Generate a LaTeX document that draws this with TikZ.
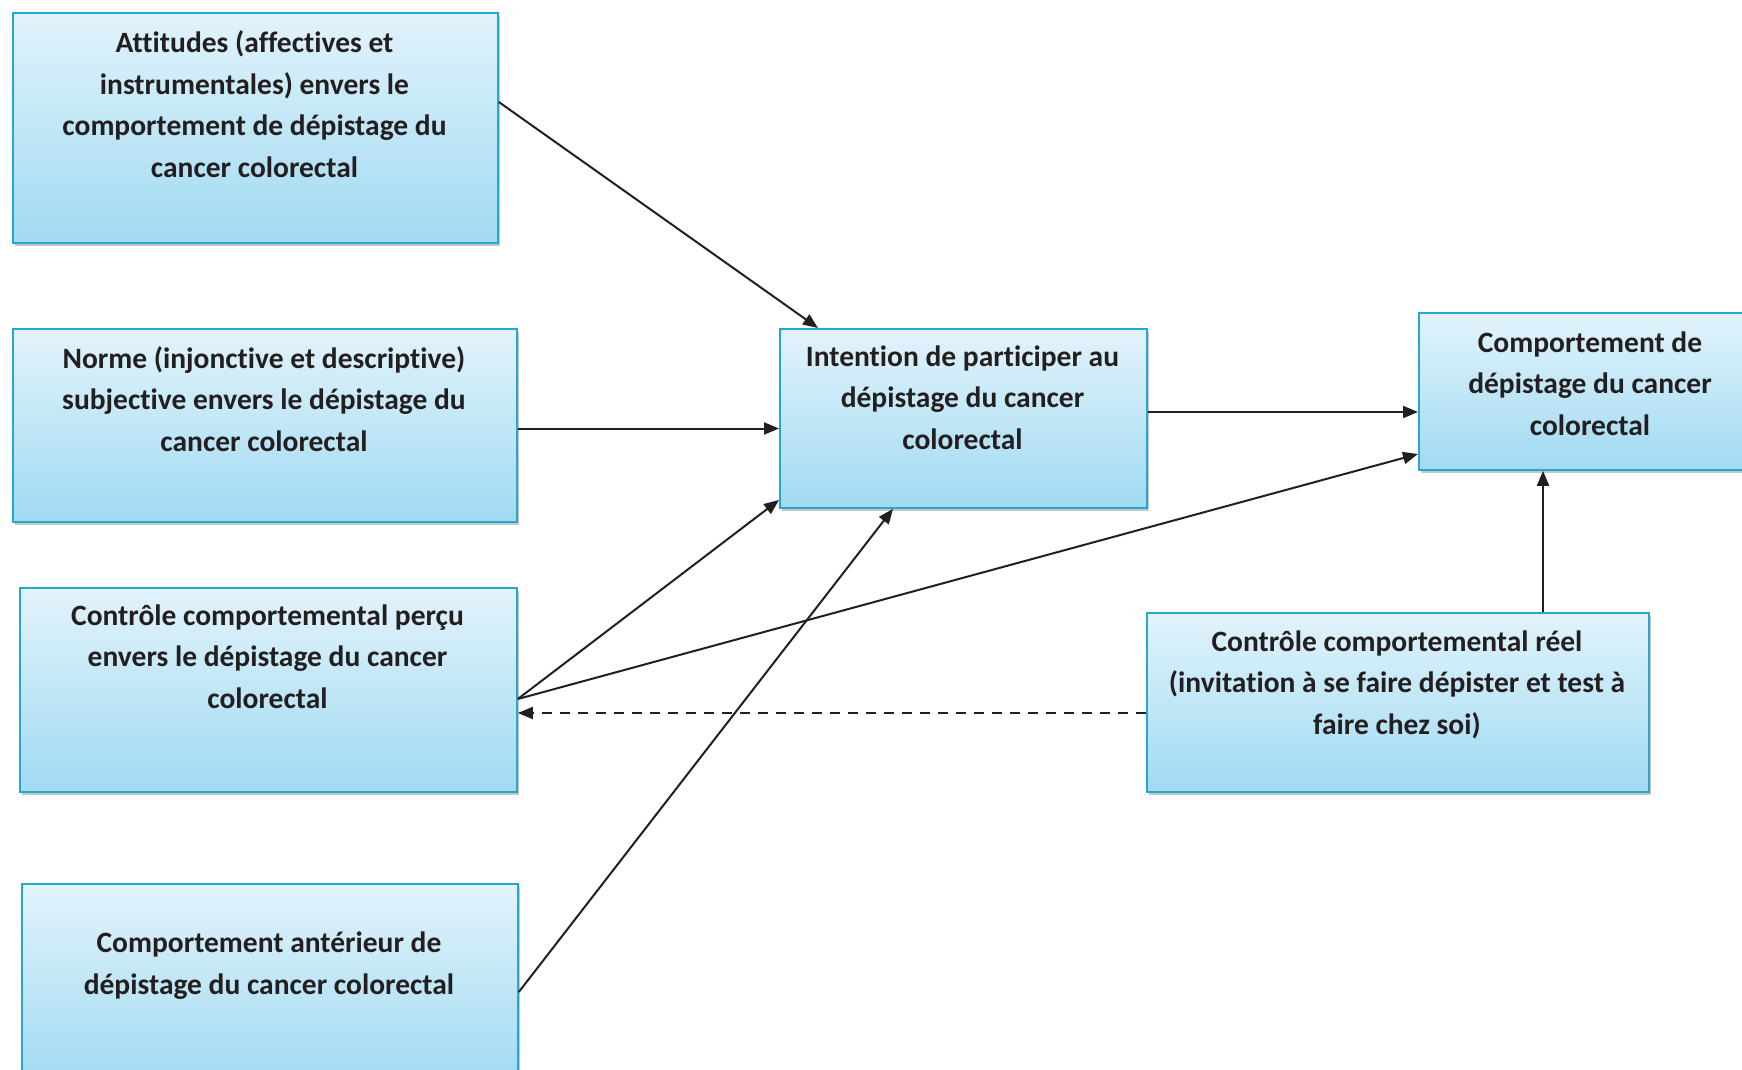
\documentclass[tikz,border=0pt]{standalone}
\usepackage{fontspec}
\setmainfont[Ligatures={NoCommon}]{Carlito}
\usetikzlibrary{arrows.meta,shadows}
\definecolor{boxtop}{RGB}{226,243,251}
\definecolor{boxbot}{RGB}{160,218,242}
\definecolor{boxline}{RGB}{38,168,204}
\definecolor{ink}{RGB}{35,31,32}
\tikzset{
  box/.style={draw=boxline, line width=1.8pt, top color=boxtop, bottom color=boxbot,
    anchor=north west, inner sep=0pt,
    drop shadow={shadow xshift=2pt, shadow yshift=-3pt, fill=black!22, opacity=1}},
  lbl/.style={anchor=base, inner sep=0pt, align=center, text=ink,
    font=\fontsize{29.5}{41.5}\selectfont\bfseries},
  conn/.style={draw=ink, line width=2pt, -{Triangle[length=15pt,width=12pt]}},
  dconn/.style={conn, dash pattern=on 10pt off 8pt}
}
\begin{document}
\begin{tikzpicture}[x=1pt,y=-1pt]
\useasboundingbox[fill=white] (0,0) rectangle (1742,1070);
% boxes
\node[box, minimum width=485, minimum height=230] (A) at (12,12) {};
\node[box, minimum width=504, minimum height=193] (N) at (12,328) {};
\node[box, minimum width=497, minimum height=204] (P) at (19,587) {};
\node[box, minimum width=496, minimum height=200] (Ant) at (21,883) {};
\node[box, minimum width=367, minimum height=179] (I) at (779,328) {};
\node[box, minimum width=344, minimum height=157] (C) at (1418,312) {};
\node[box, minimum width=502, minimum height=179] (R) at (1146,612) {};
% texts (anchor = baseline of last line)
\node[lbl] (tA) at (254.5,177) {Attitudes (affectives et\\instrumentales) envers le\\comportement de dépistage du\\cancer colorectal};
\node[lbl] (tN) at (264,451) {Norme (injonctive et descriptive)\\subjective envers le dépistage du\\cancer colorectal};
\node[lbl] (tP) at (267.5,708) {Contrôle comportemental perçu\\envers le dépistage du cancer\\colorectal};
\node[lbl] (tAnt) at (269,994) {Comportement antérieur de\\dépistage du cancer colorectal};
\node[lbl] (tI) at (962.5,449) {Intention de participer au\\dépistage du cancer\\colorectal};
\node[lbl] (tC) at (1590,435) {Comportement de\\dépistage du cancer\\colorectal};
\node[lbl] (tR) at (1397,734) {Contrôle comportemental réel\\(invitation à se faire dépister et test à\\faire chez soi)};
% connectors
\draw[conn] (A.east |- 0,102) -- (I.north -| 818,0);
\draw[conn] (N.east |- 0,428.5) -- (I.west |- 0,428.5);
\draw[conn] (I.east |- 0,412) -- (C.west |- 0,412);
\draw[conn] (P.east |- 0,699) -- (I.west |- 0,500);
\draw[conn] (P.east |- 0,699) -- (C.west |- 0,454);
\draw[conn] (Ant.east |- 0,992) -- (I.south -| 893,0);
\draw[conn] (R.north -| 1543,0) -- (C.south -| 1543,0);
\draw[dconn] (R.west |- 0,713) -- (P.east |- 0,713);
\end{tikzpicture}
\end{document}
